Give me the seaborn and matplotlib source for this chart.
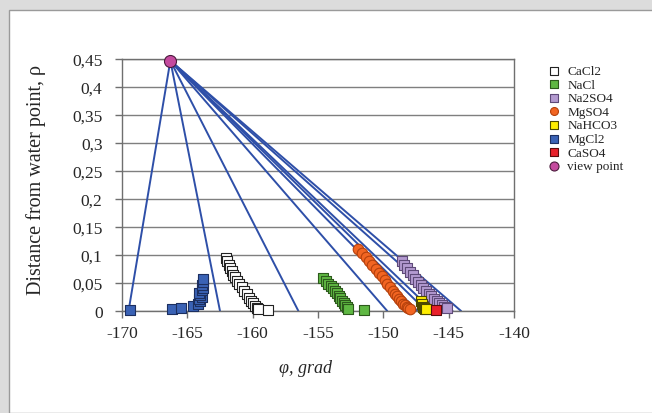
import numpy as np
import pandas as pd
import seaborn as sns
import matplotlib.pyplot as plt
from matplotlib.patches import Rectangle
from matplotlib.ticker import FuncFormatter, MultipleLocator

# --- data ---
cacl2_x = [-162.04, -161.94, -161.84, -161.74, -161.61, -161.48, -161.35, -161.18, -161.02,
           -160.84, -160.67, -160.46, -160.28, -160.13, -159.95, -159.82, -159.69, -159.57, -158.8]
cacl2_y = [0.094, 0.089, 0.083, 0.077, 0.071, 0.065, 0.060, 0.054, 0.048,
           0.042, 0.036, 0.030, 0.024, 0.018, 0.014, 0.009, 0.006, 0.004, 0.002]

nacl_x = [-154.60, -154.39, -154.21, -154.03, -153.88, -153.73, -153.57, -153.42, -153.29,
          -153.14, -153.01, -152.91, -152.81, -152.73, -151.46]
nacl_y = [0.059, 0.054, 0.049, 0.045, 0.041, 0.036, 0.032, 0.027, 0.023,
          0.018, 0.014, 0.011, 0.007, 0.004, 0.002]

na2so4_x = [-148.60, -148.40, -148.17, -147.96, -147.76, -147.56, -147.35, -147.15, -146.95,
            -146.74, -146.53, -146.33, -146.13, -145.92, -145.72, -145.54, -145.36, -145.16]
na2so4_y = [0.090, 0.083, 0.076, 0.070, 0.064, 0.058, 0.052, 0.046, 0.041,
            0.036, 0.030, 0.026, 0.021, 0.017, 0.014, 0.011, 0.008, 0.005]

mgso4_x = [-151.92, -151.61, -151.36, -151.10, -150.85, -150.59, -150.36, -150.13, -149.90,
           -149.70, -149.50, -149.29, -149.11, -148.94, -148.78, -148.63, -148.48, -148.35,
           -148.22, -148.09, -147.96]
mgso4_y = [0.111, 0.104, 0.096, 0.089, 0.082, 0.075, 0.068, 0.062, 0.055,
           0.049, 0.042, 0.036, 0.030, 0.026, 0.021, 0.017, 0.013, 0.010,
           0.007, 0.005, 0.003]

nahco3_x = [-147.12, -147.05, -146.99, -146.92, -146.84, -146.76]
nahco3_y = [0.017, 0.012, 0.008, 0.006, 0.004, 0.003]

mgcl2_x = [-169.4, -166.2, -165.5, -164.6, -164.2, -164.0, -164.1, -163.9, -164.0, -164.1,
           -163.9, -163.8, -163.9, -163.8, -163.8]
mgcl2_y = [0.002, 0.003, 0.005, 0.009, 0.013, 0.017, 0.021, 0.025, 0.029, 0.033,
           0.037, 0.041, 0.046, 0.051, 0.058]

caso4_x = [-145.98]
caso4_y = [0.002]

view_x = [-166.3]
view_y = [0.447]

# x where each ray from the view point meets rho = 0
ray_ends = [-169.5, -162.5, -156.5, -149.7, -147.4, -146.7, -146.2, -144.7, -144.05]

series = [
    ("CaCl2", cacl2_x, cacl2_y, "s", "#ffffff", "#222222"),
    ("NaCl", nacl_x, nacl_y, "s", "#5fb843", "#2d5a1c"),
    ("Na2SO4", na2so4_x, na2so4_y, "s", "#b39ad0", "#5e4a78"),
    ("MgSO4", mgso4_x, mgso4_y, "o", "#f26522", "#b4400c"),
    ("NaHCO3", nahco3_x, nahco3_y, "s", "#ffee00", "#4d4a00"),
    ("MgCl2", mgcl2_x, mgcl2_y, "s", "#3a62b5", "#1c2f60"),
    ("CaSO4", caso4_x, caso4_y, "s", "#e8202a", "#5a0c0c"),
]

sns.set_style("white")
plt.rcParams["font.family"] = ["Liberation Serif", "DejaVu Serif"]
plt.rcParams["axes.unicode_minus"] = False

fig = plt.figure(figsize=(6.52, 4.14), dpi=100)

# grey frame around the chart area
fig.patches.append(Rectangle((0, 0), 1, 1, transform=fig.transFigure,
                             facecolor="#dcdcdc", edgecolor="none", zorder=-3))
fig.patches.append(Rectangle((9 / 652, 0), 1, 1 - 11 / 414, transform=fig.transFigure,
                             facecolor="white", edgecolor="#9a9a9a", lw=1, zorder=-2))

ax = fig.add_axes([122 / 652, 1 - 312 / 414, 392 / 652, 252 / 414])
ax.set_facecolor("none")

# rays from the view point
for xe in ray_ends:
    ax.plot([view_x[0], xe], [view_y[0], 0], color="#2e4fa8", lw=1.4, zorder=2)

for name, xs, ys, mk, fc, ec in series:
    df = pd.DataFrame({"phi": xs, "rho": ys})
    sns.scatterplot(data=df, x="phi", y="rho", ax=ax, marker=mk, s=46 if mk == "s" else 58,
                    color=fc, edgecolor=ec, linewidth=0.8, label=name, zorder=3,
                    clip_on=False)

sns.scatterplot(x=view_x, y=view_y, ax=ax, marker="o", s=75, color="#c44a9e",
                edgecolor="#4a1a3c", linewidth=0.8, label="view point", zorder=4, clip_on=False)

ax.set_xlim(-170, -140)
ax.set_ylim(0, 0.45)
ax.xaxis.set_major_locator(MultipleLocator(5))
ax.yaxis.set_major_locator(MultipleLocator(0.05))
ax.yaxis.set_major_formatter(FuncFormatter(lambda v, p: f"{v:.2f}".rstrip("0").rstrip(",.").replace(".", ",") if v else "0"))
ax.grid(axis="y", color="#7f7f7f", lw=1)
ax.set_axisbelow(True)
for s in ax.spines.values():
    s.set_color("#6f6f6f")
    s.set_linewidth(1)
ax.tick_params(axis="both", direction="out", length=5, color="#6f6f6f", width=1,
               labelsize=12.5, left=True, bottom=True)
ax.tick_params(axis="y", pad=9)
ax.tick_params(axis="x", pad=5)

ax.set_xlabel("φ, grad", fontsize=13, style="italic")
ax.set_ylabel("Distance from water point, ρ", fontsize=14.5)
ax.xaxis.set_label_coords(0.469, -0.19)
ax.yaxis.set_label_coords(-0.195, 0.525)

ax.legend(loc="upper left", bbox_to_anchor=(549 / 652, 1 - 66 / 414),
          bbox_transform=fig.transFigure, frameon=False, fontsize=9.5,
          handlelength=0.7, handletextpad=0.7, labelspacing=0.1, markerscale=0.75,
          borderaxespad=0, borderpad=0)

fig.savefig("out.png", dpi=100)
